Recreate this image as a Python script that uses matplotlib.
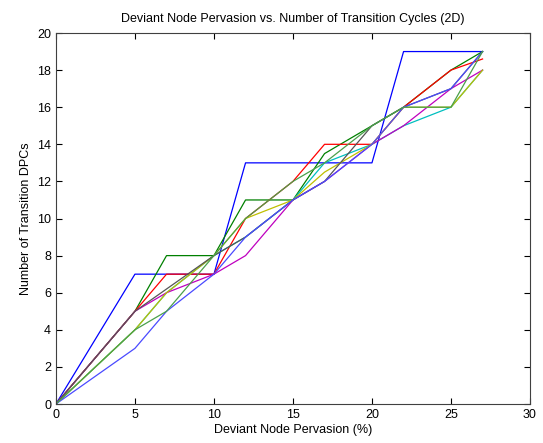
import matplotlib
matplotlib.use("Agg")
import matplotlib.pyplot as plt

plt.rcParams["font.family"] = ["Liberation Sans", "DejaVu Sans"]

pervasion = [0, 5, 7, 10, 12, 15, 17, 20, 22, 25, 27]

run_blue1 = [0, 7, 7, 7, 13, 13, 13, 13, 19, 19, 19]
run_green1 = [0, 5, 8, 8, 11, 11, 13.5, 15, 16, 18, 19]
run_red = [0, 5, 7, 7, 10, 12, 14, 14, 16, 18, 18.6]
run_cyan = [0, 4, 6, 8, 9, 11, 13, 14, 15, 16, 18]
run_magenta = [0, 5, 6, 7, 8, 11, 12, 14, 15, 17, 18]
run_yellow = [0, 4, 6, 8, 10, 11, 12.5, 14, 16, 16, 18]
run_black = [0, 5, 6.2, 8, 9, 11, 12, 15, 16, 17, 19]
run_blue2 = [0, 3, 5, 7, 9, 11, 12, 14, 16, 17, 19]
run_green2 = [0, 4, 5, 8, 10, 12, 13, 15, 16, 16, 19]

runs = [run_blue1, run_green1, run_red, run_cyan, run_magenta,
        run_yellow, run_black, run_blue2, run_green2]
colors = ["#0000ff", "#008000", "#ff0000", "#00bfbf", "#bf00bf",
          "#bfbf00", "#555555", "#4a4aff", "#4aa04a"]

fig = plt.figure(figsize=(5.43, 4.43), dpi=100)
ax = fig.add_axes([0.103, 0.088, 0.873, 0.8375])

for run, c in zip(runs, colors):
    ax.plot(pervasion, run, color=c, linewidth=0.9)

ax.set_xlim(0, 30)
ax.set_ylim(0, 20)
ax.set_xticks(range(0, 31, 5))
ax.set_yticks(range(0, 21, 2))
ax.tick_params(direction="in", top=True, right=True, labelsize=9, length=4)
for s in ax.spines.values():
    s.set_color("#404040")

ax.set_title("Deviant Node Pervasion vs. Number of Transition Cycles (2D)", fontsize=9, pad=8)
ax.set_xlabel("Deviant Node Pervasion (%)", fontsize=9, labelpad=2)
ax.set_ylabel("Number of Transition DPCs", fontsize=9)

fig.savefig("out.png", dpi=100)
